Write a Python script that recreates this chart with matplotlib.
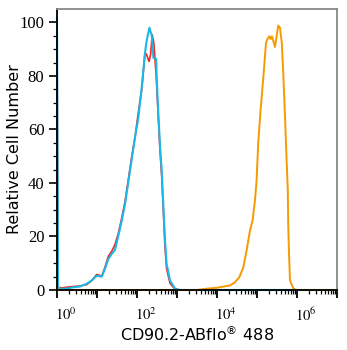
import numpy as np
import matplotlib
matplotlib.use("Agg")
import matplotlib.pyplot as plt
import matplotlib.transforms as mtransforms
from matplotlib.ticker import FixedLocator, FixedFormatter, NullFormatter

plt.rcParams['mathtext.fontset'] = 'stix'

# ---- DATA (x as log10 of intensity, y as relative count) ----
cyan_logx = [0, 0.025, 0.075, 0.24, 0.4, 0.575, 0.74, 0.87, 0.99, 1.12, 1.2, 1.28,
             1.37, 1.45, 1.53, 1.62, 1.7, 1.78, 1.87, 1.95, 2.03, 2.12, 2.2, 2.24,
             2.31, 2.37, 2.41, 2.48, 2.49, 2.53, 2.575, 2.62, 2.66, 2.7, 2.74,
             2.825, 2.95, 3.075, 7]
cyan_y = [101.5, 1.0, 0.5, 0.5, 1.0, 1.3, 2.3, 3.6, 5.3, 5.0, 8.0, 11.5,
          13.5, 15.0, 20.0, 26.0, 32.0, 40.0, 49.0, 57.0, 64.0, 76.0, 88.6, 93.0,
          98.0, 95.0, 86.7, 86.3, 80.0, 67.0, 54.0, 44.0, 31.0, 18.6, 9.8,
          3.6, 0.5, 0, 0]

red_logx = [0, 0.025, 0.125, 0.325, 0.575, 0.74, 0.87, 0.99, 1.12, 1.2, 1.28,
            1.37, 1.45, 1.53, 1.62, 1.7, 1.78, 1.87, 1.95, 2.03, 2.12, 2.2, 2.24,
            2.3, 2.34, 2.38, 2.42, 2.48, 2.53, 2.575, 2.62, 2.66, 2.7, 2.74,
            2.825, 2.95, 3.075, 7]
red_y = [101.5, 1.0, 0.8, 1.2, 1.5, 2.0, 3.5, 5.8, 5.2, 8.5, 12.5,
         14.5, 17.0, 21.0, 27.0, 33.0, 41.0, 50.0, 57.0, 66.0, 75.0, 88.6, 88.0,
         85.4, 88.0, 95.4, 92.3, 80.0, 65.0, 52.0, 42.0, 29.0, 16.0, 8.0,
         2.5, 0.3, 0, 0]

orange_logx = [0, 0.025, 3.075, 3.49, 3.74, 3.99, 4.16, 4.325, 4.45, 4.56, 4.66,
               4.74, 4.825, 4.89, 4.95, 4.99, 5.03, 5.09, 5.16, 5.225, 5.26, 5.31,
               5.34, 5.375, 5.45, 5.49, 5.53, 5.575, 5.62, 5.66, 5.7, 5.74, 5.77,
               5.78, 5.8, 5.825, 5.91, 5.99, 7]
orange_y = [1.5, 0, 0, 0, 0.5, 0.8, 1.3, 1.7, 2.9, 4.8, 8.6,
            14.8, 22.3, 26.0, 33.6, 41.0, 54.8, 67.3, 79.8, 92.3, 93.8, 94.8,
            93.8, 94.8, 90.8, 94.8, 98.8, 98.0, 92.3, 79.8, 64.8, 48.6, 37.3,
            25.0, 13.6, 3.6, 0.5, 0, 0]

decades = list(range(0, 8))
x_labels = ['$10^{%d}$' % d if d % 2 == 0 else '' for d in decades]
y_ticks = [0, 20, 40, 60, 80, 100]

# ---- FIGURE ----
fig = plt.figure(figsize=(3.47, 3.5), dpi=100)
ax = fig.add_axes([57 / 347, 1 - 290 / 350, 280 / 347, 281 / 350])

ax.plot(10 ** np.array(red_logx), red_y, color='#f02424', lw=1.2, clip_on=False)
ax.plot(10 ** np.array(cyan_logx), cyan_y, color='#1ab8e8', lw=1.5, clip_on=False)
ax.plot(10 ** np.array(orange_logx), orange_y, color='#f59b00', lw=1.4, clip_on=False)

ax.set_xscale('log')
ax.set_xlim(1, 1e7)
ax.set_ylim(0, 105)

# x ticks
ax.xaxis.set_major_locator(FixedLocator([10.0 ** d for d in decades]))
ax.xaxis.set_major_formatter(FixedFormatter(x_labels))
minors = [m * 10.0 ** d for d in range(0, 7) for m in range(2, 10)]
ax.xaxis.set_minor_locator(FixedLocator(minors))
ax.xaxis.set_minor_formatter(NullFormatter())
ax.tick_params(axis='x', which='major', length=6, width=1.3, pad=6,
               labelsize=10.5, direction='out')
ax.tick_params(axis='x', which='minor', length=3, width=0.9, direction='out')

# y ticks
ax.set_yticks(y_ticks)
ax.set_yticks(np.arange(0, 105, 5), minor=True)
ax.tick_params(axis='y', which='major', length=6, width=1.2, pad=3,
               labelsize=12, direction='out')
ax.tick_params(axis='y', which='minor', length=3, width=0.9, direction='out')
for lbl in ax.get_yticklabels():
    lbl.set_fontfamily('Liberation Serif')

# labels of the decades sit a little right of their ticks
shift = mtransforms.ScaledTranslation(9 / 100, 0, fig.dpi_scale_trans)
for lbl in ax.get_xticklabels():
    lbl.set_fontfamily('Liberation Serif')
    lbl.set_transform(lbl.get_transform() + shift)

for s in ['left', 'bottom']:
    ax.spines[s].set_color('black')
    ax.spines[s].set_linewidth(1.3)
for s in ['top', 'right']:
    ax.spines[s].set_color('#888888')
    ax.spines[s].set_linewidth(1.3)

ax.set_ylabel('Relative Cell Number', fontsize=11.5, family='DejaVu Sans', labelpad=-2)
ax.set_xlabel(r'CD90.2-ABflo$^{\circledR}$ 488', fontsize=11.5, family='DejaVu Sans',
              labelpad=0, math_fontfamily='dejavusans')

fig.savefig('out.png', dpi=100)
